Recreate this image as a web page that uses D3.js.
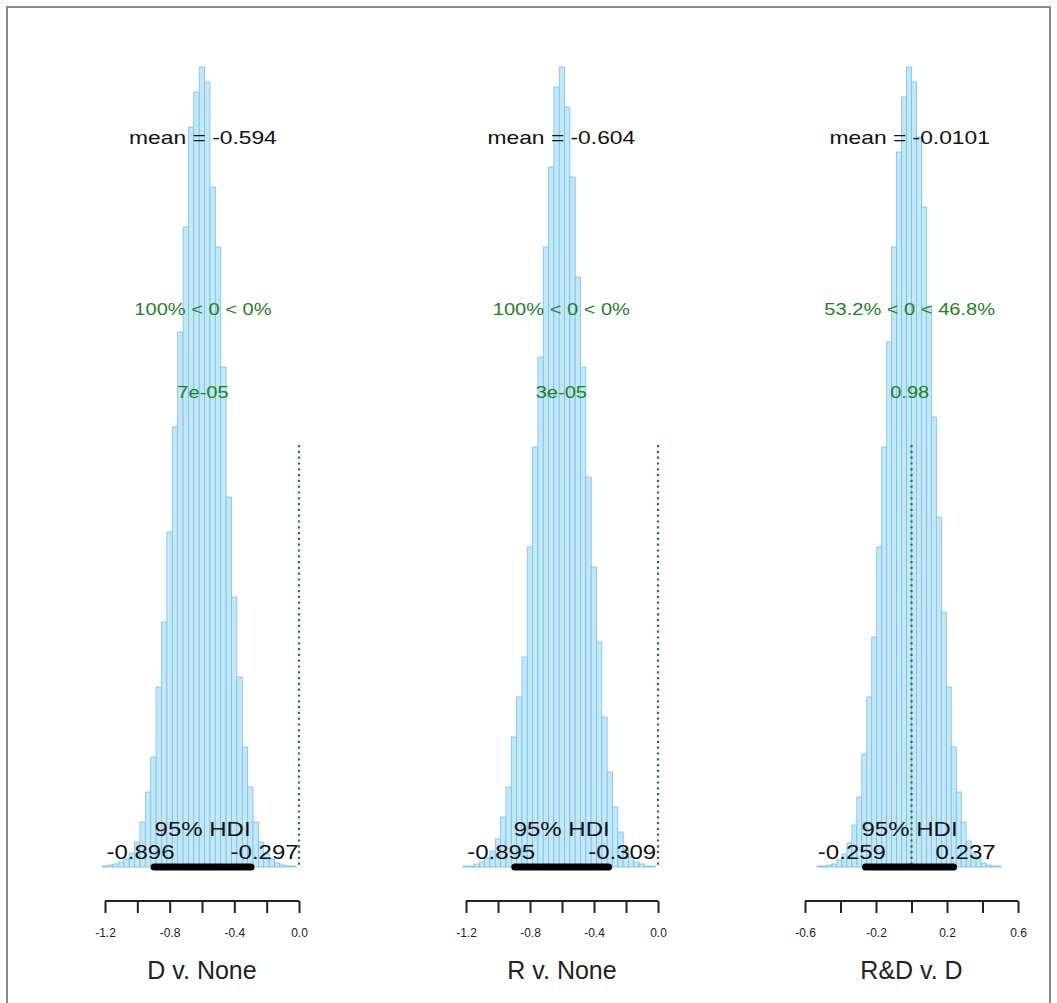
<!DOCTYPE html>
<html><head><meta charset="utf-8">
<script src="https://cdn.jsdelivr.net/npm/d3@7"></script>
<style>body{margin:0;background:#fff;}svg{display:block;font-family:"Liberation Sans",Arial,sans-serif;}</style>
</head><body>
<svg id="chart" width="1057" height="1003"></svg>
<script>
// ---- data ----
const panelTitles = ["D v. None", "R v. None", "R&D v. D"];
const means = [-0.594, -0.604, -0.0101];
const meanLabels = ["-0.594", "-0.604", "-0.0101"];
const hdiLow = [-0.896, -0.895, -0.259];
const hdiHigh = [-0.297, -0.309, 0.237];
const hdiLowLabels = ["-0.896", "-0.895", "-0.259"];
const hdiHighLabels = ["-0.297", "-0.309", "0.237"];
const pctBelow = ["100%", "100%", "53.2%"];
const pctAbove = ["0%", "0%", "46.8%"];
const pValues = ["7e-05", "3e-05", "0.98"];
const compVal = 0;
const xDomains = [[-1.2, 0], [-1.2, 0], [-0.6, 0.6]];
const tickSteps = [0.2, 0.2, 0.2];
const tickLabels = [["-1.2", "-0.8", "-0.4", "0.0"], ["-1.2", "-0.8", "-0.4", "0.0"], ["-0.6", "-0.2", "0.2", "0.6"]];
const labelTicks = [[-1.2, -0.8, -0.4, 0.0], [-1.2, -0.8, -0.4, 0.0], [-0.6, -0.2, 0.2, 0.6]];
const binStart = [-1.2167, -1.2167, -0.532];
const binWidth = [0.0333, 0.0333, 0.028];
const counts1 = [1, 2, 3, 5, 8, 14, 25, 45, 75, 110, 180, 245, 335, 440, 535, 640, 740, 775, 800, 785, 680, 620, 500, 370, 270, 190, 120, 80, 45, 25, 14, 8, 4, 2, 1, 1];
const counts2 = [1, 1, 3, 5, 9, 16, 28, 50, 80, 130, 170, 210, 320, 420, 510, 620, 700, 780, 800, 760, 690, 590, 500, 390, 300, 225, 150, 95, 60, 35, 18, 10, 5, 3, 1, 1];
const counts3 = [1, 1, 2, 3, 7, 13, 24, 42, 70, 113, 170, 230, 320, 420, 525, 620, 715, 770, 800, 785, 730, 660, 560, 450, 350, 255, 180, 120, 75, 45, 26, 14, 8, 4, 2, 1, 1];
const allCounts = [counts1, counts2, counts3];

// ---- layout ----
const svg = d3.select("#chart");
const xRanges = [[105, 299], [466, 658], [805, 1018]];
const baseY = 867, topY = 67;
const green = "#1f7f1f";
const stretch = 1.2;

function wide(sel, factor) {
  const w = sel.node().getComputedTextLength();
  sel.attr("textLength", w * factor).attr("lengthAdjust", "spacingAndGlyphs");
  return w * factor;
}

svg.append("rect").attr("x", 7).attr("y", 7).attr("width", 1043).attr("height", 1010)
  .attr("fill", "none").attr("stroke", "#8a8a8a").attr("stroke-width", 2);

for (let p = 0; p < 3; p++) {
  const x = d3.scaleLinear().domain(xDomains[p]).range(xRanges[p]);
  const counts = allCounts[p];
  const y = d3.scaleLinear().domain([0, d3.max(counts)]).range([baseY, topY]);
  const g = svg.append("g");

  const bins = counts.map((c, i) => ({x0: binStart[p] + i * binWidth[p], x1: binStart[p] + (i + 1) * binWidth[p], c}));
  g.selectAll("rect.bar").data(bins).join("rect").attr("class", "bar")
    .attr("x", d => x(d.x0)).attr("width", d => x(d.x1) - x(d.x0))
    .attr("y", d => y(d.c)).attr("height", d => baseY - y(d.c))
    .attr("fill", "#c4e7f7").attr("stroke", "#72c3ea").attr("stroke-width", 0.8);

  // comparison value line
  g.append("line").attr("x1", x(compVal)).attr("x2", x(compVal)).attr("y1", 445).attr("y2", baseY)
    .attr("stroke", green).attr("stroke-width", 2.2).attr("stroke-dasharray", "2.2,3.6");

  // HDI bar
  g.append("line").attr("x1", x(hdiLow[p])).attr("x2", x(hdiHigh[p])).attr("y1", baseY).attr("y2", baseY)
    .attr("stroke", "#000").attr("stroke-width", 7).attr("stroke-linecap", "round");

  const hdiMid = (hdiLow[p] + hdiHigh[p]) / 2;
  const th = g.append("text").attr("x", x(hdiMid)).attr("y", 836).attr("text-anchor", "middle")
    .attr("font-size", 20).attr("fill", "#111").text("95% HDI");
  wide(th, stretch);
  const tl = g.append("text").attr("x", x(hdiLow[p])).attr("y", 859).attr("text-anchor", "start")
    .attr("font-size", 20).attr("fill", "#111").text(hdiLowLabels[p]);
  const wl = wide(tl, stretch);
  tl.attr("x", x(hdiLow[p]) - 0.7 * wl);
  const tr = g.append("text").attr("x", x(hdiHigh[p])).attr("y", 859).attr("text-anchor", "start")
    .attr("font-size", 20).attr("fill", "#111").text(hdiHighLabels[p]);
  const wr = wide(tr, stretch);
  tr.attr("x", x(hdiHigh[p]) - 0.3 * wr);

  // mean
  const tm = g.append("text").attr("x", x(means[p])).attr("y", 144).attr("text-anchor", "middle")
    .attr("font-size", 19).attr("fill", "#111").text("mean = " + meanLabels[p]);
  wide(tm, 1.2);
  // pct
  const tp = g.append("text").attr("x", x(means[p])).attr("y", 315).attr("text-anchor", "middle")
    .attr("font-size", 17).attr("fill", green).text(pctBelow[p] + " < " + compVal + " < " + pctAbove[p]);
  wide(tp, 1.18);
  const tv = g.append("text").attr("x", x(means[p])).attr("y", 398).attr("text-anchor", "middle")
    .attr("font-size", 17).attr("fill", green).text(pValues[p]);
  wide(tv, 1.18);

  // axis
  const d0 = xDomains[p][0], d1 = xDomains[p][1];
  const ticks = d3.range(0, Math.round((d1 - d0) / tickSteps[p]) + 1).map(i => d0 + i * tickSteps[p]);
  const axis = d3.axisBottom(x).tickValues(ticks).tickSizeOuter(0).tickSize(12)
    .tickFormat(v => {
      const k = labelTicks[p].findIndex(t => Math.abs(t - v) < 1e-6);
      return k >= 0 ? tickLabels[p][k] : "";
    });
  const ag = g.append("g").attr("transform", `translate(0,901)`).call(axis);
  ag.select(".domain").attr("stroke", "#222").attr("stroke-width", 2).attr("d", `M${x(d0)},0H${x(d1)}`);
  ag.selectAll(".tick line").attr("stroke", "#222").attr("stroke-width", 2);
  ag.selectAll(".tick text").attr("font-size", 12).attr("fill", "#222").attr("dy", "1.75em")
    .attr("font-family", "Liberation Sans, Arial, sans-serif");

  g.append("text").attr("x", (xRanges[p][0] + xRanges[p][1]) / 2).attr("y", 979).attr("text-anchor", "middle")
    .attr("font-size", 25).attr("fill", "#222").text(panelTitles[p]);
}
</script>
</body></html>
